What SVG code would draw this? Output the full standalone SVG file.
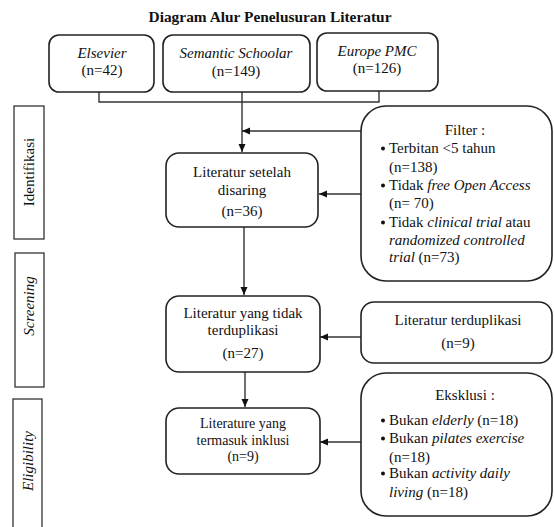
<svg xmlns="http://www.w3.org/2000/svg" width="554" height="527" viewBox="0 0 554 527">
<style>
.bx{fill:#fff;stroke:#222;stroke-width:1.6}
.lb{fill:#fff;stroke:#333;stroke-width:1.3}
.t{font-family:"Liberation Serif","Times New Roman",serif;font-size:15px;fill:#111}
.c{text-anchor:middle}
.i{font-style:italic}
.ln{fill:none;stroke:#333;stroke-width:1.4}
.dot{fill:#111}
</style>
<defs>
<marker id="ah" markerUnits="userSpaceOnUse" markerWidth="9" markerHeight="8" refX="8" refY="3.5" orient="auto">
<path d="M0,0 L8,3.5 L0,7 z" fill="#111"/>
</marker>
</defs>
<rect width="554" height="527" fill="#fff"/>
<text x="270" y="22" class="t c" style="font-weight:bold;font-size:15.4px">Diagram Alur Penelusuran Literatur</text>

<g id="label-identifikasi">
<rect class="lb" x="14" y="106" width="30" height="133"/>
<text class="t c" transform="translate(34,172) rotate(-90)">Identifikasi</text>
</g>
<g id="label-screening">
<rect class="lb" x="15" y="253" width="29" height="134"/>
<text class="t c i" transform="translate(34,306) rotate(-90)">Screening</text>
</g>
<g id="label-eligibility">
<rect class="lb" x="13" y="399" width="29" height="140"/>
<text class="t c i" transform="translate(33,461) rotate(-90)">Eligibility</text>
</g>

<g id="connectors">
<path class="ln" d="M99,92 V102 H379 V91"/>
<path class="ln" d="M242,92 V102"/>
<path class="ln" d="M242,102 V152" marker-end="url(#ah)"/>
<path class="ln" d="M361,131 H242" marker-end="url(#ah)"/>
<path class="ln" d="M244,227 V295" marker-end="url(#ah)"/>
<path class="ln" d="M361,194 H319" marker-end="url(#ah)"/>
<path class="ln" d="M361,337 H320" marker-end="url(#ah)"/>
<path class="ln" d="M245,372 V407" marker-end="url(#ah)"/>
<path class="ln" d="M361,442 H320" marker-end="url(#ah)"/>
</g>

<g id="elsevier">
<rect class="bx" x="49" y="35" width="105" height="57" rx="10"/>
<text x="102" y="58" class="t c i">Elsevier</text>
<text x="102" y="75" class="t c">(n=42)</text>
</g>
<g id="semantic">
<rect class="bx" x="163" y="35" width="147" height="57" rx="10"/>
<text x="236" y="58" class="t c i">Semantic Schoolar</text>
<text x="236" y="76" class="t c">(n=149)</text>
</g>
<g id="europepmc">
<rect class="bx" x="317" y="33" width="121" height="58" rx="10"/>
<text x="377" y="56" class="t c i">Europe PMC</text>
<text x="377" y="73" class="t c">(n=126)</text>
</g>

<g id="setelah-disaring">
<rect class="bx" x="166" y="153" width="152" height="74" rx="13"/>
<text x="242" y="177" class="t c">Literatur setelah</text>
<text x="242" y="195" class="t c">disaring</text>
<text x="242" y="216" class="t c">(n=36)</text>
</g>

<g id="filter">
<rect class="bx" x="361" y="106" width="191" height="175" rx="25"/>
<text x="465" y="135" class="t c">Filter :</text>
<circle class="dot" cx="383" cy="148.5" r="2"/>
<text x="389" y="153" class="t">Terbitan &lt;5 tahun</text>
<text x="389" y="172" class="t">(n=138)</text>
<circle class="dot" cx="383" cy="185.5" r="2"/>
<text x="389" y="190" class="t">Tidak <tspan class="i">free Open Access</tspan></text>
<text x="389" y="208" class="t">(n= 70)</text>
<circle class="dot" cx="383" cy="222.5" r="2"/>
<text x="389" y="227" class="t">Tidak <tspan class="i">clinical trial</tspan> atau</text>
<text x="389" y="245" class="t i">randomized controlled</text>
<text x="389" y="262" class="t"><tspan class="i">trial</tspan> (n=73)</text>
</g>

<g id="tidak-terduplikasi">
<rect class="bx" x="166" y="296" width="154" height="76" rx="13"/>
<text x="243" y="318" class="t c">Literatur yang tidak</text>
<text x="243" y="335" class="t c">terduplikasi</text>
<text x="243" y="358" class="t c">(n=27)</text>
</g>

<g id="terduplikasi">
<rect class="bx" x="361" y="302" width="191" height="61" rx="13"/>
<text x="458" y="325" class="t c">Literatur terduplikasi</text>
<text x="458" y="348" class="t c">(n=9)</text>
</g>

<g id="inklusi">
<rect class="bx" x="166" y="408" width="154" height="66" rx="13"/>
<text x="243" y="428" class="t c" style="font-size:14px">Literature yang</text>
<text x="243" y="445" class="t c" style="font-size:14px">termasuk inklusi</text>
<text x="243" y="461" class="t c" style="font-size:14px">(n=9)</text>
</g>

<g id="eksklusi">
<rect class="bx" x="361" y="373" width="191" height="143" rx="25"/>
<text x="465" y="400" class="t c">Eksklusi :</text>
<circle class="dot" cx="383" cy="420.5" r="2"/>
<text x="389" y="425" class="t">Bukan <tspan class="i">elderly</tspan> (n=18)</text>
<circle class="dot" cx="383" cy="438.5" r="2"/>
<text x="389" y="443" class="t">Bukan <tspan class="i">pilates exercise</tspan></text>
<text x="389" y="462" class="t">(n=18)</text>
<circle class="dot" cx="383" cy="473.5" r="2"/>
<text x="389" y="478" class="t">Bukan <tspan class="i">activity daily</tspan></text>
<text x="389" y="497" class="t"><tspan class="i">living</tspan> (n=18)</text>
</g>
</svg>
